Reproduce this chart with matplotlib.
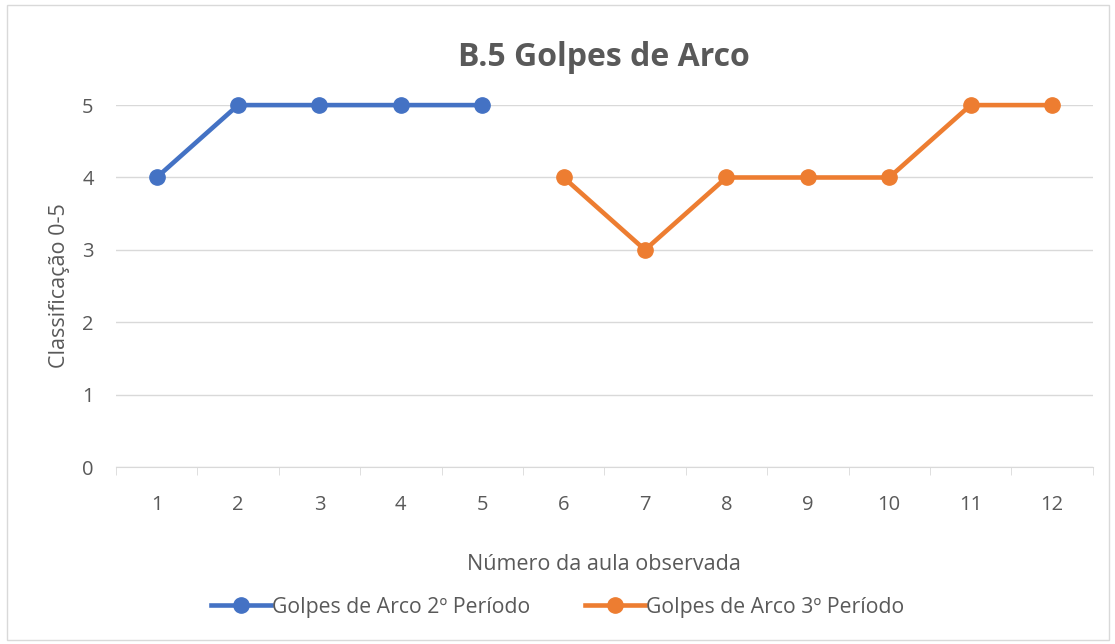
import matplotlib.pyplot as plt
import numpy as np
from matplotlib.patches import Rectangle

# dados
aulas = list(range(1, 13))
periodo2_x = [1, 2, 3, 4, 5]
periodo2_y = [4, 5, 5, 5, 5]
periodo3_x = [6, 7, 8, 9, 10, 11, 12]
periodo3_y = [4, 3, 4, 4, 4, 5, 5]

plt.rcParams['font.family'] = ['Open Sans', 'DejaVu Sans']
cinza = '#595959'

fig = plt.figure(figsize=(11.15, 6.44), dpi=100)
ax = fig.add_axes([0.104, 0.2748, 0.876, 0.562])

ax.plot(periodo2_x, periodo2_y, color='#4472C4', lw=3.3, marker='o', ms=11,
        clip_on=False, zorder=3, label='Golpes de Arco 2º Período')
ax.plot(periodo3_x, periodo3_y, color='#ED7D31', lw=3.3, marker='o', ms=11,
        clip_on=False, zorder=3, label='Golpes de Arco 3º Período')

ax.set_xlim(0.5, 12.5)
ax.set_ylim(0, 5)
ax.set_yticks(range(0, 6))
ax.set_xticks(aulas)
ax.set_xticks(np.arange(0.5, 13, 1), minor=True)
ax.grid(axis='y', color='#D9D9D9', lw=1)
ax.set_axisbelow(True)
for s in ['top', 'right', 'left']:
    ax.spines[s].set_visible(False)
ax.spines['bottom'].set_color('#D9D9D9')
ax.tick_params(axis='x', which='major', length=0, pad=20, labelsize=14.5, labelcolor=cinza)
ax.tick_params(axis='x', which='minor', length=6, color='#D9D9D9')
ax.tick_params(axis='y', length=0, pad=16, labelsize=14.5, labelcolor=cinza)

ax.set_title('B.5 Golpes de Arco', fontsize=23, fontweight='bold', color=cinza, pad=28)
ax.set_xlabel('Número da aula observada', fontsize=15.5, color=cinza, labelpad=28)
ax.set_ylabel('Classificação 0-5', fontsize=15.5, color=cinza, labelpad=9)

fig.legend(loc='center', bbox_to_anchor=(0.5, 0.057), ncol=2, frameon=False,
           fontsize=15.3, labelcolor=cinza, handlelength=2.8, handletextpad=0.05,
           columnspacing=2.6)

fig.patches.append(Rectangle((0.006, 0.006), 0.989, 0.986, transform=fig.transFigure,
                             fill=False, edgecolor='#D9D9D9', lw=1))

fig.savefig('out.png', dpi=100)
